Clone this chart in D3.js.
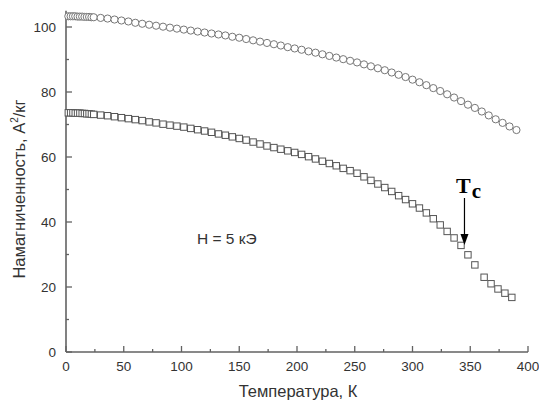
<!doctype html>
<html>
<head>
<meta charset="UTF-8">
<title>Намагниченность</title>
<style>
  body { margin: 0; background: #fff; }
  svg { display: block; }
</style>
</head>
<body>
<div id="chart"></div>
<script src="https://cdn.jsdelivr.net/npm/d3@7"></script>
<script>
// temperatures, K (circles, upper curve)
var tempUpper = [2, 4, 6, 8, 10, 12, 14, 16, 18, 20, 22, 24,
  30, 36, 42, 48, 54, 60, 66, 72, 78, 84, 90, 96, 102, 108, 114, 120,
  126, 132, 138, 144, 150, 156, 162, 168, 174, 180, 186, 192, 198, 204,
  210, 216, 222, 228, 234, 240, 246, 252, 258, 264, 270, 276, 282, 288,
  294, 300, 306, 312, 318, 324, 330, 336, 342, 348, 354, 360, 366, 372,
  378, 384, 390];
var magUpper = [103.3, 103.3, 103.3, 103.3, 103.2, 103.2, 103.2, 103.1, 103.1, 103.1, 103.0, 103.0,
  102.8, 102.6, 102.3, 102.0, 101.7, 101.3, 101.0, 100.7, 100.4, 100.1, 99.8, 99.5, 99.2, 98.9, 98.6, 98.3,
  98.0, 97.7, 97.4, 97.0, 96.7, 96.3, 95.9, 95.5, 95.1, 94.7, 94.3, 93.8, 93.4, 93.0,
  92.5, 92.1, 91.6, 91.1, 90.6, 90.1, 89.6, 89.1, 88.5, 87.9, 87.3, 86.7, 86.0, 85.3,
  84.6, 83.8, 83.0, 82.1, 81.2, 80.3, 79.3, 78.3, 77.2, 76.1, 75.1, 74.0, 72.8, 71.6,
  70.5, 69.4, 68.3];

// temperatures, K (squares, lower curve)
var tempLower = [2, 4, 6, 8, 10, 12, 14, 16, 18, 20, 22, 24,
  30, 36, 42, 48, 54, 60, 66, 72, 78, 84, 90, 96, 102, 108, 114, 120,
  126, 132, 138, 144, 150, 156, 162, 168, 174, 180, 186, 192, 198, 204,
  210, 216, 222, 228, 234, 240, 246, 252, 258, 264, 270, 276, 282, 288,
  294, 300, 306, 312, 318, 324, 330, 336, 342, 348, 354, 362, 368, 374,
  380, 386];
var magLower = [73.6, 73.6, 73.6, 73.5, 73.5, 73.5, 73.4, 73.4, 73.3, 73.3, 73.2, 73.1,
  72.9, 72.7, 72.4, 72.1, 71.8, 71.5, 71.2, 70.8, 70.5, 70.1, 69.8, 69.5, 69.2, 68.8, 68.4, 68.0,
  67.6, 67.1, 66.7, 66.2, 65.7, 65.2, 64.6, 64.0, 63.4, 62.9, 62.4, 61.9, 61.4, 60.8,
  60.1, 59.4, 58.7, 58.0, 57.3, 56.5, 55.8, 55.0, 53.9, 52.8, 51.7, 50.6, 49.4, 48.1,
  46.9, 45.6, 44.3, 42.8, 41.0, 39.1, 37.1, 35.1, 32.8, 29.9, 26.8, 23.0, 21.0, 19.4,
  18.1, 16.8];

var xTicks = [0, 50, 100, 150, 200, 250, 300, 350, 400];
var yTicks = [0, 20, 40, 60, 80, 100];

var width = 539, height = 400;
var svg = d3.select("#chart").append("svg")
  .attr("width", width)
  .attr("height", height);

var x = d3.scaleLinear().domain([0, 400]).range([66, 528]);
var y = d3.scaleLinear().domain([0, 105]).range([352, 10.75]);

var axisColor = "#626262";
var textColor = "#333";
var sans = "Arial, 'Liberation Sans', sans-serif";

// axis lines
svg.append("line")
  .attr("x1", x(0)).attr("x2", x(400))
  .attr("y1", y(0)).attr("y2", y(0))
  .attr("stroke", axisColor).attr("stroke-width", 1.6);
svg.append("line")
  .attr("x1", x(0)).attr("x2", x(0))
  .attr("y1", y(0)).attr("y2", y(105))
  .attr("stroke", axisColor).attr("stroke-width", 1.6);

// x ticks, pointing inside
var xMinor = d3.range(25, 400, 50);
svg.selectAll(".xmaj").data(xTicks).enter().append("line")
  .attr("x1", d => x(d)).attr("x2", d => x(d))
  .attr("y1", y(0)).attr("y2", y(0) - 6)
  .attr("stroke", axisColor).attr("stroke-width", 1.3);
svg.selectAll(".xmin").data(xMinor).enter().append("line")
  .attr("x1", d => x(d)).attr("x2", d => x(d))
  .attr("y1", y(0)).attr("y2", y(0) - 3)
  .attr("stroke", axisColor).attr("stroke-width", 1.3);
svg.selectAll(".xlab").data(xTicks).enter().append("text")
  .attr("x", d => x(d)).attr("y", 371)
  .attr("text-anchor", "middle")
  .attr("font-family", sans)
  .attr("font-size", 13.5)
  .attr("fill", textColor)
  .text(d => d);

// y ticks, pointing inside
var yMinor = d3.range(10, 105, 20);
svg.selectAll(".ymaj").data(yTicks).enter().append("line")
  .attr("x1", x(0)).attr("x2", x(0) + 6)
  .attr("y1", d => y(d)).attr("y2", d => y(d))
  .attr("stroke", axisColor).attr("stroke-width", 1.3);
svg.selectAll(".ymin").data(yMinor).enter().append("line")
  .attr("x1", x(0)).attr("x2", x(0) + 3)
  .attr("y1", d => y(d)).attr("y2", d => y(d))
  .attr("stroke", axisColor).attr("stroke-width", 1.3);
svg.selectAll(".ylab").data(yTicks).enter().append("text")
  .attr("x", 56).attr("y", d => y(d) + 4.5)
  .attr("text-anchor", "end")
  .attr("font-family", sans)
  .attr("font-size", 13.5)
  .attr("fill", textColor)
  .text(d => d);

// axis titles
svg.append("text")
  .attr("x", 298).attr("y", 397)
  .attr("text-anchor", "middle")
  .attr("font-family", sans)
  .attr("font-size", 16.5)
  .attr("fill", textColor)
  .text("Температура, К");

var yTitle = svg.append("text")
  .attr("transform", "translate(25,189) rotate(-90)")
  .attr("text-anchor", "middle")
  .attr("font-family", sans)
  .attr("font-size", 16.5)
  .attr("fill", textColor);
yTitle.append("tspan").text("Намагниченность, A");
yTitle.append("tspan").attr("font-size", 10).attr("dy", -7).text("2");
yTitle.append("tspan").attr("dy", 7).text("/кг");

// upper series: open circles
var upper = tempUpper.map((t, i) => ({t: t, m: magUpper[i]}));
svg.selectAll(".circ").data(upper).enter().append("circle")
  .attr("cx", d => x(d.t))
  .attr("cy", d => y(d.m))
  .attr("r", 3.6)
  .attr("fill", "#fff")
  .attr("stroke", "#777")
  .attr("stroke-width", 1);

// lower series: open squares
var lower = tempLower.map((t, i) => ({t: t, m: magLower[i]}));
var sq = 6.4;
svg.selectAll(".sq").data(lower).enter().append("rect")
  .attr("x", d => x(d.t) - sq / 2)
  .attr("y", d => y(d.m) - sq / 2)
  .attr("width", sq).attr("height", sq)
  .attr("fill", "#fff")
  .attr("stroke", "#555")
  .attr("stroke-width", 1);

// annotation
svg.append("text")
  .attr("x", 197).attr("y", 244)
  .attr("font-family", sans)
  .attr("font-size", 15.5)
  .attr("fill", textColor)
  .text("H = 5 кЭ");

var tc = svg.append("text")
  .attr("x", 456).attr("y", 193)
  .attr("font-family", "'Liberation Serif', 'Times New Roman', serif")
  .attr("font-weight", "bold")
  .attr("font-size", 22)
  .attr("fill", "#000");
tc.append("tspan").text("T");
tc.append("tspan").attr("dy", 5).attr("dx", 1).attr("font-size", 21).text("c");

var ax = x(345);
svg.append("line")
  .attr("x1", ax).attr("x2", ax)
  .attr("y1", 198).attr("y2", 236)
  .attr("stroke", "#000").attr("stroke-width", 1.2);
svg.append("path")
  .attr("d", "M" + (ax - 4) + ",234 L" + (ax + 4) + ",234 L" + ax + ",245 Z")
  .attr("fill", "#000");
</script>
</body>
</html>
